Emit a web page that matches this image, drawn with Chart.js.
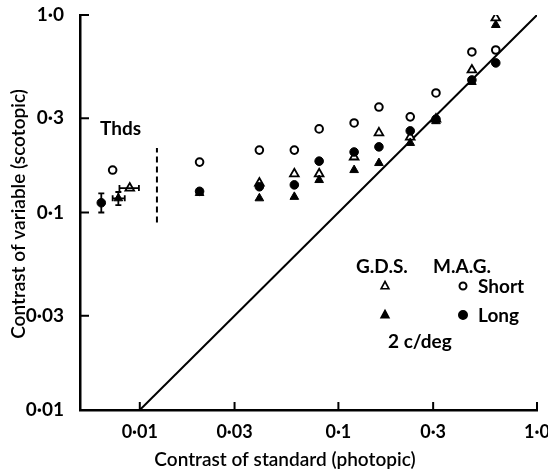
<!DOCTYPE html>
<html><head><meta charset="utf-8">
<script src="https://cdn.jsdelivr.net/npm/chart.js@4"></script>
<style>html,body{margin:0;padding:0;background:#fff;}#wrap{width:548px;height:473px;}</style>
</head><body><div id="wrap"><canvas id="c" width="548" height="473"></canvas></div>
<script>
const FONT = 'Lato, "Open Sans", sans-serif';

// Tick values and labels
const xTicks = [0.01, 0.03, 0.1, 0.3, 1.0];
const xTickLabels = ['0·01', '0·03', '0·1', '0·3', '1·0'];
const yTicks = [0.01, 0.03, 0.1, 0.3, 1.0];
const yTickLabels = ['0·01', '0·03', '0·1', '0·3', '1·0'];

// Contrast of standard (photopic) — x categories
const stdContrast = [0.02, 0.04, 0.06, 0.08, 0.12, 0.16, 0.23, 0.31, 0.47, 0.62];
// Contrast of variable (scotopic)
const gdsShort = [null, 0.141, 0.157, 0.157, 0.191, 0.253, 0.241, 0.297, 0.527, 0.966];
const gdsLong  = [0.1255, 0.118, 0.120, 0.146, 0.164, 0.178, 0.225, 0.290, 0.458, 0.890];
const magShort = [0.180, 0.207, 0.207, 0.265, 0.284, 0.342, 0.305, 0.403, 0.650, 0.665];
const magLong  = [0.128, 0.135, 0.138, 0.182, 0.2025, 0.215, 0.259, 0.297, 0.469, 0.572];

// Thresholds (Thds)
const thdSeries = ['MAG Long', 'GDS Long', 'MAG Short', 'GDS Short'];
const thdX     = [0.0064, 0.0078, 0.0073, 0.0089];
const thdY     = [0.112, 0.118, 0.164, 0.133];
const thdYLow  = [0.100, 0.109, null, null];
const thdYHigh = [0.125, 0.127, null, null];
const thdXLow  = [null, 0.0073, null, 0.0079];
const thdXHigh = [null, 0.0084, null, 0.0099];

// Reference lines
const equalityLine = [0.01, 1.0];
const dividerX = 0.0122;
const dividerY = [0.089, 0.212];

function pts(xs, ys) {
  const out = [];
  xs.forEach((x, i) => { if (ys[i] != null) out.push({x: x, y: ys[i]}); });
  return out;
}
function thdPts(name) {
  const i = thdSeries.indexOf(name);
  return [{x: thdX[i], y: thdY[i]}];
}

const openTri = {pointStyle: 'triangle', pointRadius: 5, pointBackgroundColor: '#fff', pointBorderColor: '#000', pointBorderWidth: 1.8};
const fillTri = {pointStyle: 'triangle', pointRadius: 5, pointBackgroundColor: '#000', pointBorderColor: '#000', pointBorderWidth: 1};
const openCir = {pointStyle: 'circle', pointRadius: 3.8, pointBackgroundColor: '#fff', pointBorderColor: '#000', pointBorderWidth: 2};
const fillCir = {pointStyle: 'circle', pointRadius: 4.3, pointBackgroundColor: '#000', pointBorderColor: '#000', pointBorderWidth: 1};

const datasets = [
  Object.assign({label: 'GDS Long', data: pts(stdContrast, gdsLong).concat(thdPts('GDS Long')), showLine: false}, fillTri),
  Object.assign({label: 'MAG Long', data: pts(stdContrast, magLong).concat(thdPts('MAG Long')), showLine: false}, fillCir),
  Object.assign({label: 'GDS Short', data: pts(stdContrast, gdsShort).concat(thdPts('GDS Short')), showLine: false}, openTri),
  Object.assign({label: 'MAG Short', data: pts(stdContrast, magShort).concat(thdPts('MAG Short')), showLine: false}, openCir),
  {label: 'equality', data: equalityLine.map(v => ({x: v, y: v})), showLine: true, borderColor: '#000', borderWidth: 2, pointRadius: 0, fill: false},
  {label: 'divider', data: dividerY.map(v => ({x: dividerX, y: v})), showLine: true, borderColor: '#000', borderWidth: 2, borderDash: [6, 4], pointRadius: 0, fill: false}
];

const overlay = {
  id: 'overlay',
  afterDatasetsDraw(chart) {
    const {ctx, scales: {x, y}, chartArea: a} = chart;
    ctx.save();
    ctx.strokeStyle = '#000'; ctx.fillStyle = '#000';
    ctx.lineWidth = 2;
    ctx.lineCap = 'butt';
    xTicks.forEach(v => { const px = x.getPixelForValue(v); ctx.beginPath(); ctx.moveTo(px, a.bottom); ctx.lineTo(px, a.bottom - 8); ctx.stroke(); });
    yTicks.forEach(v => { const py = y.getPixelForValue(v); ctx.beginPath(); ctx.moveTo(a.left, py); ctx.lineTo(a.left + 9, py); ctx.stroke(); });
    // error bars
    ctx.lineWidth = 1.8;
    thdX.forEach((xv, i) => {
      const px = x.getPixelForValue(xv), py = y.getPixelForValue(thdY[i]);
      if (thdYLow[i] != null) {
        const p1 = y.getPixelForValue(thdYLow[i]), p2 = y.getPixelForValue(thdYHigh[i]);
        ctx.beginPath(); ctx.moveTo(px, p1); ctx.lineTo(px, p2);
        ctx.moveTo(px - 3, p1); ctx.lineTo(px + 3, p1);
        ctx.moveTo(px - 3, p2); ctx.lineTo(px + 3, p2); ctx.stroke();
      }
      if (thdXLow[i] != null) {
        const q1 = x.getPixelForValue(thdXLow[i]), q2 = x.getPixelForValue(thdXHigh[i]);
        ctx.beginPath(); ctx.moveTo(q1, py); ctx.lineTo(q2, py);
        ctx.moveTo(q1, py - 3); ctx.lineTo(q1, py + 3);
        ctx.moveTo(q2, py - 3); ctx.lineTo(q2, py + 3); ctx.stroke();
      }
    });
    // texts
    ctx.textBaseline = 'middle';
    ctx.textAlign = 'left';
    ctx.font = 'bold 19px ' + FONT;
    ctx.fillText('Thds', 100, 129);
    ctx.fillText('G.D.S.', 356, 267);
    ctx.fillText('M.A.G.', 433, 267);
    ctx.fillText('Short', 478, 287);
    ctx.fillText('Long', 478, 316);
    ctx.fillText('2 c/deg', 388, 342);
    // legend symbols
    const sym = (cx, cy, kind) => {
      ctx.lineWidth = kind === 'oc' ? 2 : 1.6;
      ctx.beginPath();
      if (kind[1] === 't') {
        const r = 4.5;
        ctx.moveTo(cx, cy - r); ctx.lineTo(cx + r * 0.866, cy + r * 0.5 + 0.5); ctx.lineTo(cx - r * 0.866, cy + r * 0.5 + 0.5); ctx.closePath();
      } else {
        ctx.arc(cx, cy, kind === 'oc' ? 3.5 : 4.2, 0, Math.PI * 2);
      }
      if (kind[0] === 'f') ctx.fill(); else { ctx.fillStyle = '#fff'; ctx.fill(); ctx.fillStyle = '#000'; }
      ctx.stroke();
    };
    sym(385, 286, 'ot'); sym(463, 286, 'oc');
    sym(385, 315, 'ft'); sym(463, 315, 'fc');
    // axis titles
    ctx.font = '600 19px ' + FONT;
    ctx.textAlign = 'center';
    ctx.fillText('Contrast of standard (photopic)', 285, 460);
    ctx.save();
    ctx.translate(19, 214);
    ctx.rotate(-Math.PI / 2);
    ctx.fillText('Contrast of variable (scotopic)', 0, 0);
    ctx.restore();
    ctx.restore();
  }
};

new Chart(document.getElementById('c'), {
  type: 'scatter',
  data: {datasets: datasets},
  options: {
    responsive: false,
    animation: false,
    events: [],
    layout: {padding: {top: 15, right: 11, left: 0, bottom: 0}},
    plugins: {legend: {display: false}, tooltip: {enabled: false}},
    scales: {
      x: {
        type: 'logarithmic', min: 0.005, max: 1.0,
        afterBuildTicks: s => { s.ticks = xTicks.map(v => ({value: v})); },
        afterFit: s => { s.height = 63; s.paddingRight = 0; s.paddingLeft = 0; },
        ticks: {autoSkip: false, maxRotation: 0, padding: 11, color: '#000',
          font: {family: FONT, size: 18, weight: 'bold'},
          callback: (v) => { const i = xTicks.indexOf(v); return i >= 0 ? xTickLabels[i] : ''; }},
        grid: {display: false, drawTicks: false},
        border: {display: true, color: '#000', width: 2.5}
      },
      y: {
        type: 'logarithmic', min: 0.01, max: 1.0,
        afterBuildTicks: s => { s.ticks = yTicks.map(v => ({value: v})); },
        afterFit: s => { s.width = 80; s.paddingTop = 0; s.paddingBottom = 0; },
        ticks: {autoSkip: false, padding: 16, color: '#000',
          font: {family: FONT, size: 19, weight: 'bold'},
          callback: (v) => { const i = yTicks.indexOf(v); return i >= 0 ? yTickLabels[i] : ''; }},
        grid: {display: false, drawTicks: false},
        border: {display: true, color: '#000', width: 2.5}
      }
    }
  },
  plugins: [overlay]
});
</script>
</body></html>
